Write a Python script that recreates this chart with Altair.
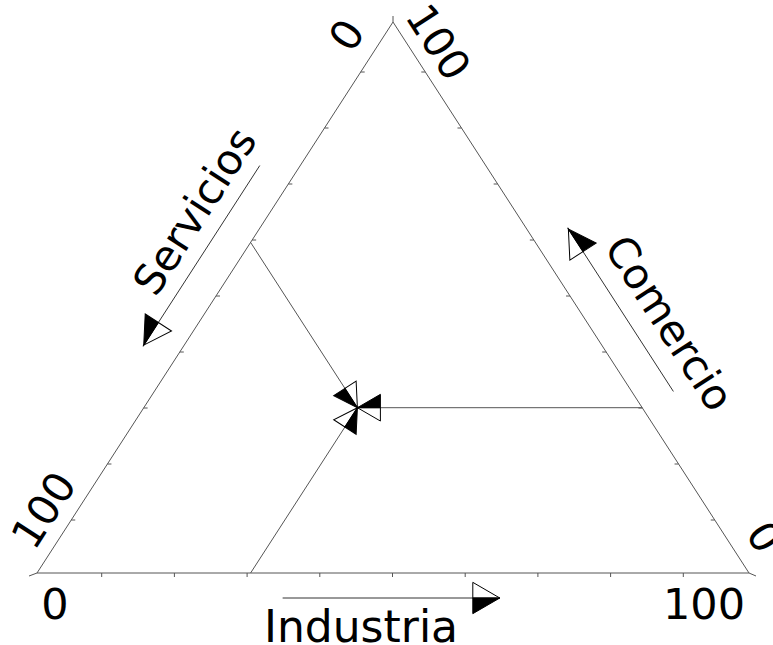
import math
import pandas as pd
import altair as alt

# Sector shares of the plotted composition (percent)
industria = [30]
comercio = [30]
servicios = [40]

# Tick positions along every side (percent)
tick_values = [10, 20, 30, 40, 50, 60, 70, 80, 90]
axis_names = ["Industria", "Servicios", "Comercio"]
end_labels = ["0", "100"]

# ---- layout of the triangle inside the view (pixels) ----
W, H = 773, 645
X0, X1 = 37, 749      # bottom-left and bottom-right corners
YB, YT = 573, 22      # base line and apex
SX = X1 - X0          # pixels per unit along x
SY = YB - YT          # pixels per unit along y

# corner stubs (pixel offsets from each corner); ticks are spaced between them
STUB_BL = (-8, 3)
STUB_BR = (7, 3)
STUB_TOP = (0, -6)


def tern(i, c):
    """Industria / Comercio fractions -> unit-triangle coordinates (apex at (0.5, 1))."""
    return i + 0.5 * c, c


def to_px(x, y):
    return X0 + SX * x, YB - SY * y


def from_px(px, py):
    return (px - X0) / SX, (YB - py) / SY


xs = alt.Scale(domain=[-X0 / SX, (W - X0) / SX], nice=False, zero=False)
ys = alt.Scale(domain=[(YB - H) / SY, YB / SY], nice=False, zero=False)


def seg_chart(rows, color, width):
    df = pd.DataFrame(rows, columns=["x", "y", "x2", "y2"])
    return alt.Chart(df).mark_rule(color=color, strokeWidth=width).encode(
        x=alt.X("x:Q", scale=xs, axis=None),
        y=alt.Y("y:Q", scale=ys, axis=None),
        x2="x2:Q",
        y2="y2:Q",
    )


# ---- triangle frame ----
A, B, C = tern(0, 0), tern(1, 0), tern(0, 1)
edges = [(*A, *B), (*B, *C), (*C, *A)]

pa, pb, pc = to_px(*A), to_px(*B), to_px(*C)
stub_px = [
    (pa, (pa[0] + STUB_BL[0], pa[1] + STUB_BL[1])),
    (pb, (pb[0] + STUB_BR[0], pb[1] + STUB_BR[1])),
    (pc, (pc[0] + STUB_TOP[0], pc[1] + STUB_TOP[1])),
]
stubs = [(*from_px(*s), *from_px(*e)) for s, e in stub_px]
bl_end, br_end, top_end = stub_px[0][1], stub_px[1][1], stub_px[2][1]

# ---- tick marks ----
slope = 0.5 * SX / SY          # horizontal run of a side per pixel of height
ticks = []
for t in tick_values:
    f = t / 100
    # Industria along the base, pointing down
    bx = bl_end[0] + f * (br_end[0] - bl_end[0])
    ticks.append((*from_px(bx, YB), *from_px(bx, YB + 4)))
    # Servicios along the left side (0 at the apex), pointing inwards
    ly = top_end[1] + f * (bl_end[1] - top_end[1])
    lx = X0 + (YB - ly) * slope
    ticks.append((*from_px(lx, ly), *from_px(lx + 4, ly)))
    # Comercio along the right side (0 at the bottom-right corner), pointing inwards
    ry = br_end[1] - f * (br_end[1] - top_end[1])
    rx = X1 - (YB - ry) * slope
    ticks.append((*from_px(rx, ry), *from_px(rx - 4, ry)))

# ---- guide lines from the composition point to each side ----
ii, cc, ss = industria[0] / 100, comercio[0] / 100, servicios[0] / 100
P = tern(ii, cc)
ends = [
    tern(ii, 0),          # constant Industria -> base
    tern(0, 1 - ss),      # constant Servicios -> left side
    tern(1 - cc, cc),     # constant Comercio -> right side
]
guides = [(*e, *P) for e in ends]


def heading(x_from, y_from, x_to, y_to):
    px0, py0 = to_px(x_from, y_from)
    px1, py1 = to_px(x_to, y_to)
    return math.degrees(math.atan2(py1 - py0, px1 - px0)) % 360


heads_small = [dict(x=P[0], y=P[1], ang=heading(e[0], e[1], *P)) for e in ends]

# ---- axis direction arrows, offset outside each side ----
def side_arrow(p_from, p_to, normal, offset):
    (ax, ay), (bx, by) = to_px(*p_from), to_px(*p_to)
    nx, ny = normal
    t = from_px(ax + nx * offset, ay + ny * offset)
    h = from_px(bx + nx * offset, by + ny * offset)
    return (*t, *h)


left_len = math.hypot(C[0] * SX, SY)
n_left = (-SY / left_len, -0.5 * SX / left_len)
n_right = (SY / left_len, -0.5 * SX / left_len)

axis_arrows = [
    side_arrow(tern(0.345, 0), tern(0.650, 0), (0, 1), 25),
    side_arrow(tern(0, 1 - 0.294), tern(0, 1 - 0.620), n_left, 34),
    side_arrow(tern(1 - 0.295, 0.295), tern(1 - 0.590, 0.590), n_right, 35),
]
heads_big = [dict(x=a[2], y=a[3], ang=heading(*a)) for a in axis_arrows]

WHITE_HALF = "M0,0L-1,-0.58L-1,0Z"
BLACK_HALF = "M0,0L-1,0L-1,0.58Z"


def head_chart(rows, path, fill, r):
    df = pd.DataFrame(rows)
    return alt.Chart(df).mark_point(
        shape=path, filled=True, fill=fill, stroke="black", strokeWidth=1,
        opacity=1, fillOpacity=1, size=(2 * r) ** 2,
    ).encode(
        x=alt.X("x:Q", scale=xs, axis=None),
        y=alt.Y("y:Q", scale=ys, axis=None),
        angle=alt.Angle("ang:Q", scale=None),
    )


# ---- text ----
FONT = "DejaVu Sans"
LEFT_ANG = 360 - math.degrees(math.atan2(SY, C[0] * SX))
RIGHT_ANG = math.degrees(math.atan2(SY, C[0] * SX))

labels = [
    (end_labels[0], 55, 619, 0, "alphabetic", 43),
    (end_labels[1], 704, 619, 0, "alphabetic", 43),
    (axis_names[0], 361, 642, 0, "alphabetic", 44),
    (axis_names[1], 196, 212, LEFT_ANG, "middle", 42),
    (axis_names[2], 668, 324, RIGHT_ANG, "middle", 42),
    (end_labels[0], 348, 36, LEFT_ANG, "middle", 42),
    (end_labels[1], 437, 43, RIGHT_ANG, "middle", 42),
    (end_labels[1], 45, 511, LEFT_ANG, "middle", 42),
    (end_labels[0], 763, 538, RIGHT_ANG, "middle", 42),
]

text_layers = []
for txt, px, py, ang, base, fs in labels:
    text_layers.append(
        alt.Chart(pd.DataFrame({"t": [txt]})).mark_text(
            font=FONT, fontSize=fs, color="black", align="center",
            baseline=base, angle=ang,
        ).encode(text="t:N", x=alt.value(px), y=alt.value(py))
    )

chart = alt.layer(
    seg_chart(edges, "#555555", 1),
    seg_chart(ticks, "#555555", 1),
    seg_chart(stubs, "#555555", 1),
    seg_chart(guides, "#555555", 1),
    seg_chart(axis_arrows, "#333333", 1),
    head_chart(heads_small, WHITE_HALF, "white", 23),
    head_chart(heads_small, BLACK_HALF, "black", 23),
    head_chart(heads_big, WHITE_HALF, "white", 27),
    head_chart(heads_big, BLACK_HALF, "black", 27),
    *text_layers,
).properties(
    width=W, height=H, padding=0, autosize=alt.AutoSizeParams(type="none"),
    background="white",
).configure_view(stroke=None)

chart.save("out.html", embed_options={"renderer": "svg", "actions": False})
